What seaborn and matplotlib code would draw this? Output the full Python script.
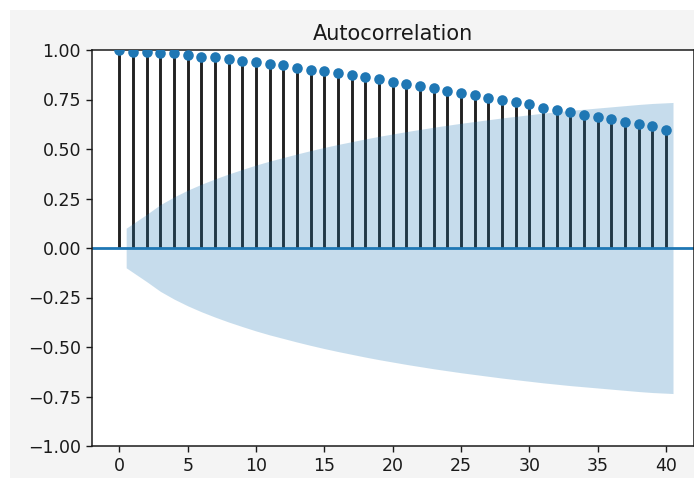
import matplotlib
matplotlib.use("Agg")
import matplotlib.pyplot as plt
from matplotlib.patches import Rectangle
import seaborn as sns
import numpy as np
import pandas as pd

# autocorrelation, lags 0..40
lags = list(range(41))
acf = [1.0, 0.99, 0.99, 0.983, 0.983, 0.975, 0.966, 0.966, 0.956, 0.946,
       0.939, 0.93, 0.922, 0.91, 0.901, 0.893, 0.884, 0.876, 0.864, 0.854,
       0.839, 0.829, 0.817, 0.808, 0.791, 0.783, 0.771, 0.76, 0.745, 0.735,
       0.728, 0.706, 0.698, 0.689, 0.672, 0.66, 0.65, 0.635, 0.626, 0.616,
       0.595]
# half width of the confidence band, lags 1..40
band = [0.10, 0.170, 0.219, 0.258, 0.292, 0.322, 0.349, 0.374, 0.397, 0.419,
        0.439, 0.457, 0.475, 0.492, 0.508, 0.523, 0.537, 0.551, 0.564, 0.576,
        0.588, 0.599, 0.610, 0.620, 0.630, 0.639, 0.648, 0.657, 0.665, 0.673,
        0.681, 0.688, 0.695, 0.701, 0.707, 0.713, 0.719, 0.725, 0.730, 0.735]
yticks = [-1.0, -0.75, -0.5, -0.25, 0.0, 0.25, 0.5, 0.75, 1.0]
xticks = [0, 5, 10, 15, 20, 25, 30, 35, 40]

sns.set_style("ticks")
plt.rcParams['font.family'] = ['DejaVu Sans']
plt.rcParams['font.size'] = 12.5
plt.rcParams['text.color'] = '#1a1a1a'
plt.rcParams['xtick.color'] = '#1a1a1a'
plt.rcParams['ytick.color'] = '#1a1a1a'
plt.rcParams['axes.edgecolor'] = '#1a1a1a'

df = pd.DataFrame({'lag': lags, 'acf': acf})

W, H = 694, 478
fig = plt.figure(figsize=(W / 100, H / 100), dpi=100, facecolor='#f4f4f4')
# white margin strips at top and left of the screenshot
fig.patches.append(Rectangle((0, 0), 10 / W, 1, transform=fig.transFigure,
                             facecolor='white', edgecolor='none', zorder=-1))
fig.patches.append(Rectangle((0, 1 - 10 / H), 1, 10 / H, transform=fig.transFigure,
                             facecolor='white', edgecolor='none', zorder=-1))

ax = fig.add_axes([92 / W, (H - 446) / H, (693.5 - 92) / W, (446 - 50) / H])
ax.set_facecolor('white')

c0 = '#1f77b4'
ax.vlines(df['lag'], 0, df['acf'], colors='#222222', linewidth=2.1)
ax.axhline(0, color=c0, linewidth=2.0)
sns.scatterplot(data=df, x='lag', y='acf', ax=ax, color=c0, s=58,
                linewidth=0, legend=False, zorder=3)

band_x = np.array(lags[1:], dtype=float)
band_x[0] -= 0.5
band_x[-1] += 0.5
band_arr = np.array(band)
ax.fill_between(band_x, -band_arr, band_arr, color=c0, alpha=0.25,
                linewidth=0, zorder=4)

ax.set_xlim(-2, 42)
ax.set_ylim(-1, 1)
ax.set_xticks(xticks)
ax.set_yticks(yticks)
ax.set_yticklabels([f'{v:.2f}'.replace('-', '\u2212') for v in yticks])
ax.set_xlabel('')
ax.set_ylabel('')
ax.tick_params(length=4.5, width=1.0, labelsize=12.5)
for s in ax.spines.values():
    s.set_visible(True)
    s.set_linewidth(1.1)
ax.set_title('Autocorrelation', fontsize=15, pad=7.5)

fig.savefig('out.png', dpi=100, facecolor=fig.get_facecolor())
